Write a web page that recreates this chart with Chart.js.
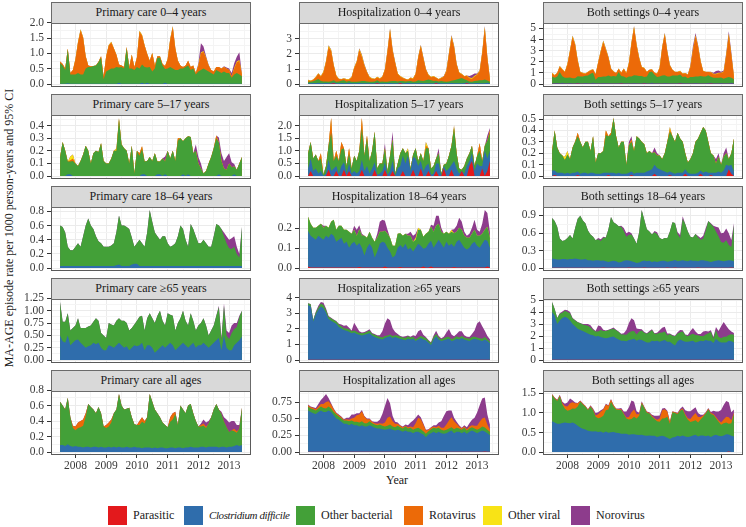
<!DOCTYPE html>
<html>
<head>
<meta charset="utf-8">
<script src="https://cdn.jsdelivr.net/npm/chart.js@4.4.1/dist/chart.umd.min.js"></script>
<style>
  body { margin: 0; width: 746px; height: 527px; background: #fff; position: relative; overflow: hidden;
         font-family: "Liberation Serif", "DejaVu Serif", serif; color: #1a1a1a; }
  .strip { position: absolute; box-sizing: border-box; background: #d9d9d9; border: 1px solid #6b6b6b;
           font-size: 12px; text-align: center; line-height: 19px; z-index: 2; }
  .wrap { position: absolute; z-index: 1; }
  .ytitle { position: absolute; left: 9px; top: 228px; transform: translate(-50%, -50%) rotate(-90deg);
            white-space: nowrap; font-size: 12px; }
  .xtitle { position: absolute; left: 397px; top: 480px; transform: translate(-50%, -50%); font-size: 12px; }
  .key { position: absolute; top: 506px; width: 19px; height: 19px; }
  .ktext { position: absolute; top: 508px; font-size: 12px; line-height: 15px; white-space: nowrap; }
</style>
</head>
<body>
<div class="ytitle">MA-AGE episode rate per 1000 person-years and 95% CI</div>
<div class="xtitle">Year</div>
<div id="legend"></div>
<script>
// monthly episodes, Jul 2007 .. Jun 2013 (one line = Jul..Jun)
const FIRST_YEAR = 2007, FIRST_MONTH = 7, N_MONTHS = 72;
const YEAR_TICKS = ['2008', '2009', '2010', '2011', '2012', '2013'];

// ---- Primary care 0-4 years
const PC04_TICKS = ['0.0', '0.5', '1.0', '1.5', '2.0'];
const PC04_B = [
  0.01,0.01,0.01,0.03,0.01,0.01,0.01,0.01,0.01,0.01,0.01,0.01,
  0.01,0.01,0.01,0.01,0.01,0.01,0.01,0.01,0.01,0.01,0.01,0.04,
  0.01,0.01,0.01,0.01,0.01,0.01,0.01,0.01,0.04,0.01,0.04,0.01,
  0.01,0.01,0.01,0.01,0.01,0.04,0.01,0.01,0.01,0.01,0.01,0.01,
  0.01,0.01,0.01,0.01,0.01,0.01,0.01,0.01,0.01,0.01,0.01,0.01,
  0.01,0.01,0.01,0.01,0.01,0.01,0.01,0.01,0.01,0.01,0.01,0.01];
const PC04_G = [
  0.68,0.60,0.45,1.10,0.30,0.30,0.30,0.35,0.30,0.30,0.50,0.55,
  0.55,0.58,0.60,0.70,0.85,0.15,0.40,0.45,0.50,0.50,0.55,0.50,
  0.55,0.50,1.15,0.50,0.50,0.45,0.55,0.50,0.60,0.55,0.50,0.55,
  0.40,0.50,0.85,0.85,0.60,0.45,0.50,0.55,0.50,0.45,0.45,0.50,
  0.50,0.55,0.60,0.45,0.50,0.30,0.40,0.45,0.50,0.45,0.40,0.35,
  0.30,0.45,0.40,0.35,0.40,0.35,0.35,0.20,0.30,0.35,0.30,0.25];
const PC04_O = [
  0.05,0.05,0.05,0.03,0.05,0.15,0.50,1.00,1.45,1.20,0.40,0.05,
  0.02,0,0,0.02,0.05,0.10,0.50,0.80,0.85,0.65,0.40,0.10,
  0.05,0.05,0.05,0.05,0.45,0.10,0.30,1.20,0.95,0.70,0.45,0.20,
  0.60,0.10,0.05,0.05,0.05,0.10,0.30,0.90,1.35,0.70,0.30,0.10,
  0.05,0.05,0.15,0.10,0.10,0.05,0.20,0.55,0.55,0.40,0.20,0.10,
  0.10,0.10,0.15,0.15,0.15,0.15,0.10,0.05,0.20,0.35,0.45,0.05];
const PC04_Y = [
  0,0,0,0,0,0,0.01,0.02,0.03,0.02,0,0,
  0,0,0,0,0,0,0.01,0.02,0.02,0.01,0,0,
  0,0,0,0,0.01,0,0.01,0.03,0.02,0.01,0,0,
  0.01,0,0,0,0,0,0.01,0.02,0.03,0.01,0,0,
  0,0,0,0,0,0,0.01,0.02,0.02,0.01,0,0,
  0,0,0,0,0,0,0,0,0.02,0.03,0.03,0];
const PC04_P = [
  0,0,0,0,0,0,0,0,0,0,0,0,
  0,0,0,0,0,0,0,0,0,0,0,0,
  0,0,0,0,0,0,0,0,0,0,0,0,
  0,0,0,0,0,0,0,0,0.01,0.01,0,0,
  0,0,0,0,0,0,0.05,0.30,0.15,0.05,0.02,0,
  0,0,0,0,0.02,0.03,0.05,0.10,0.15,0.15,0.25,0.02];

// ---- Hospitalization 0-4 years
const HOSP04_TICKS = ['0', '1', '2', '3'];
const HOSP04_R = [
  0.01,0.01,0.01,0.01,0.01,0.01,0.01,0.01,0.01,0.02,0.05,0.01,
  0.01,0.01,0.01,0.01,0.01,0.01,0.01,0.01,0.01,0.01,0.01,0.01,
  0.01,0.01,0.01,0.05,0.01,0.01,0.01,0.01,0.01,0.01,0.01,0.01,
  0.05,0.01,0.01,0.01,0.01,0.01,0.01,0.01,0.01,0.01,0.01,0.01,
  0.01,0.01,0.05,0.01,0.01,0.01,0.01,0.01,0.01,0.01,0.01,0.01,
  0.01,0.01,0.05,0.01,0.01,0.01,0.01,0.01,0.01,0.01,0.01,0.01];
const HOSP04_B = [
  0.05,0.05,0.06,0.05,0.08,0.05,0.05,0.06,0.05,0.05,0.05,0.05,
  0.05,0.06,0.05,0.05,0.08,0.05,0.05,0.05,0.06,0.05,0.05,0.05,
  0.05,0.05,0.05,0.06,0.05,0.05,0.05,0.05,0.06,0.05,0.05,0.05,
  0.06,0.05,0.05,0.08,0.05,0.05,0.05,0.05,0.06,0.05,0.05,0.05,
  0.05,0.05,0.05,0.06,0.05,0.05,0.05,0.05,0.06,0.05,0.05,0.05,
  0.05,0.06,0.05,0.05,0.05,0.05,0.06,0.05,0.05,0.05,0.08,0.05];
const HOSP04_G = [
  0.10,0.10,0.12,0.20,0.25,0.15,0.12,0.10,0.10,0.12,0.15,0.10,
  0.12,0.15,0.20,0.10,0.12,0.10,0.10,0.10,0.10,0.15,0.15,0.12,
  0.10,0.10,0.12,0.15,0.10,0.12,0.10,0.10,0.12,0.15,0.15,0.12,
  0.10,0.15,0.12,0.10,0.15,0.10,0.12,0.20,0.15,0.15,0.20,0.25,
  0.20,0.15,0.12,0.10,0.15,0.12,0.10,0.12,0.15,0.20,0.25,0.30,
  0.35,0.25,0.15,0.12,0.10,0.15,0.15,0.20,0.20,0.25,0.15,0.10];
const HOSP04_O = [
  0.10,0.05,0.10,0.20,0.35,0.30,0.60,1.30,2.30,2.00,1.00,0.40,
  0.15,0.10,0.10,0.15,0.10,0.30,0.90,1.30,2.10,1.60,1.00,0.60,
  0.30,0.20,0.15,0.20,0.20,0.30,0.80,2.00,3.40,2.00,1.20,0.50,
  0.30,0.20,0.15,0.10,0.20,0.20,0.50,1.50,2.30,1.50,0.70,0.30,
  0.20,0.30,0.20,0.15,0.20,0.30,0.70,1.80,2.90,2.20,1.00,0.40,
  0.25,0.20,0.30,0.20,0.20,0.30,0.40,0.60,1.80,3.40,1.50,0.20];
const HOSP04_Y = [
  0.02,0.02,0.02,0.03,0.03,0.03,0.05,0.06,0.10,0.08,0.04,0.02,
  0.02,0.02,0.02,0.02,0.02,0.03,0.05,0.06,0.08,0.10,0.05,0.03,
  0.02,0.02,0.02,0.02,0.02,0.03,0.04,0.06,0.08,0.06,0.04,0.02,
  0.02,0.02,0.02,0.02,0.02,0.02,0.03,0.05,0.06,0.05,0.03,0.02,
  0.02,0.02,0.02,0.02,0.02,0.03,0.04,0.06,0.08,0.06,0.03,0.02,
  0.02,0.02,0.02,0.05,0.05,0.05,0.03,0.04,0.06,0.10,0.05,0.02];
const HOSP04_P = [
  0,0,0,0,0,0,0,0,0.02,0.02,0,0,
  0,0,0,0,0,0,0,0.02,0.03,0.05,0.05,0.02,
  0,0,0,0,0,0,0,0.02,0.03,0.05,0.03,0,
  0,0,0,0,0,0,0,0.02,0.03,0.05,0.02,0,
  0,0,0,0,0,0.02,0.03,0.04,0.05,0.05,0.02,0,
  0,0,0,0.10,0.20,0.15,0.05,0.02,0.03,0.05,0.03,0];

// ---- Both settings 0-4 years
const BOTH04_TICKS = ['0', '1', '2', '3', '4', '5'];
const BOTH04_R = [
  0.02,0.02,0.02,0.02,0.02,0.02,0.02,0.02,0.02,0.02,0.05,0.02,
  0.02,0.02,0.02,0.02,0.02,0.02,0.02,0.02,0.02,0.02,0.02,0.02,
  0.02,0.02,0.02,0.05,0.02,0.02,0.02,0.02,0.02,0.02,0.02,0.02,
  0.06,0.02,0.02,0.02,0.02,0.02,0.02,0.02,0.02,0.02,0.02,0.02,
  0.02,0.02,0.05,0.02,0.02,0.02,0.02,0.02,0.02,0.02,0.02,0.02,
  0.02,0.02,0.05,0.02,0.02,0.02,0.02,0.02,0.02,0.02,0.02,0.02];
const BOTH04_B = [
  0.06,0.06,0.07,0.06,0.09,0.06,0.06,0.07,0.06,0.06,0.06,0.06,
  0.06,0.07,0.06,0.06,0.09,0.06,0.06,0.06,0.07,0.06,0.06,0.06,
  0.06,0.06,0.06,0.07,0.06,0.06,0.06,0.06,0.07,0.06,0.06,0.06,
  0.07,0.06,0.06,0.09,0.06,0.06,0.06,0.06,0.07,0.06,0.06,0.06,
  0.06,0.06,0.06,0.07,0.06,0.06,0.06,0.06,0.07,0.06,0.06,0.06,
  0.06,0.07,0.06,0.06,0.06,0.06,0.07,0.06,0.06,0.06,0.09,0.06];
const BOTH04_G = [
  0.60,0.50,0.60,1.00,0.60,0.50,0.50,0.50,0.45,0.45,0.60,0.60,
  0.60,0.65,0.70,0.85,0.90,0.30,0.55,0.55,0.60,0.60,0.70,0.60,
  0.65,0.60,1.00,0.60,0.60,0.50,0.60,0.60,0.70,0.70,0.65,0.65,
  0.50,0.60,1.00,1.00,0.75,0.55,0.60,0.70,0.70,0.60,0.60,0.70,
  0.70,0.70,0.75,0.55,0.60,0.45,0.55,0.55,0.60,0.60,0.65,0.60,
  0.60,0.70,0.55,0.50,0.50,0.50,0.50,0.40,0.50,0.55,0.45,0.35];
const BOTH04_O = [
  0.30,0.20,0.30,0.50,0.60,0.50,1.20,2.40,3.70,3.00,1.40,0.40,
  0.30,0.20,0.30,0.30,0.30,0.50,1.30,2.30,3.10,2.40,1.60,0.70,
  0.40,0.30,0.30,0.30,0.70,0.40,1.20,3.00,4.30,2.70,1.60,0.80,
  0.80,0.40,0.20,0.20,0.20,0.30,0.80,2.50,3.70,2.20,1.00,0.50,
  0.30,0.30,0.30,0.30,0.30,0.30,0.90,2.40,3.60,2.70,1.30,0.50,
  0.40,0.30,0.40,0.30,0.30,0.40,0.40,0.60,2.00,3.80,2.00,0.30];
const BOTH04_Y = [
  0.03,0.03,0.03,0.04,0.04,0.04,0.06,0.08,0.12,0.10,0.05,0.03,
  0.03,0.02,0.02,0.03,0.03,0.03,0.06,0.08,0.10,0.10,0.05,0.03,
  0.02,0.02,0.02,0.03,0.03,0.03,0.05,0.09,0.10,0.08,0.05,0.03,
  0.03,0.02,0.02,0.02,0.02,0.02,0.04,0.07,0.09,0.06,0.04,0.02,
  0.02,0.02,0.03,0.02,0.02,0.03,0.05,0.08,0.10,0.07,0.04,0.02,
  0.02,0.02,0.03,0.05,0.05,0.05,0.03,0.05,0.08,0.12,0.06,0.02];
const BOTH04_P = [
  0,0,0,0,0,0,0,0,0.02,0.02,0,0,
  0,0,0,0,0,0,0,0.02,0.03,0.05,0.05,0.02,
  0,0,0,0,0,0,0,0.02,0.04,0.05,0.03,0,
  0,0,0,0,0,0,0,0.02,0.03,0.05,0.02,0,
  0,0,0,0,0,0.02,0.08,0.30,0.20,0.08,0.02,0,
  0,0,0.02,0.10,0.25,0.20,0.10,0.10,0.15,0.20,0.25,0.02];

// ---- Primary care 5-17 years
const PC517_TICKS = ['0.0', '0.1', '0.2', '0.3', '0.4'];
const PC517_B = [
  0,0,0,0.015,0.015,0,0,0,0,0,0,0,
  0,0,0,0,0,0,0,0,0,0,0,0,
  0,0,0,0,0,0,0,0,0.015,0.015,0,0,
  0,0,0.015,0.015,0,0.015,0,0,0,0,0,0,
  0.015,0,0.015,0,0,0,0,0,0,0,0,0,
  0,0,0.015,0,0,0,0,0,0.015,0,0,0];
const PC517_G = [
  0.15,0.27,0.20,0.10,0.10,0.12,0.10,0.08,0.12,0.17,0.24,0.20,
  0.10,0.18,0.20,0.19,0.26,0.12,0.10,0.10,0.14,0.20,0.20,0.45,
  0.25,0.22,0.20,0.10,0.24,0.02,0.20,0.16,0.20,0.10,0.12,0.15,
  0.12,0.18,0.10,0.10,0.14,0.10,0.20,0.14,0.20,0.12,0.28,0.30,
  0.26,0.30,0.30,0.31,0.18,0.20,0.10,0.06,0.02,0.04,0.10,0.15,
  0.22,0.30,0.25,0.12,0.06,0.05,0.10,0.07,0.06,0.05,0.10,0.15];
const PC517_O = [
  0,0,0,0,0.01,0.02,0,0,0,0,0,0,
  0,0,0,0,0,0,0,0,0,0,0,0,
  0,0,0,0,0,0,0,0.02,0.02,0,0,0,
  0,0,0,0,0,0,0,0,0,0,0.02,0,
  0,0,0,0,0,0,0,0,0,0,0,0,
  0,0.02,0,0,0,0,0,0,0,0,0,0];
const PC517_Y = [
  0,0,0,0,0.03,0.03,0,0,0,0,0,0,
  0,0,0,0,0,0,0,0,0,0,0.02,0.01,
  0,0,0,0,0,0,0,0,0,0,0,0,
  0,0,0,0,0,0,0,0,0,0,0,0,
  0,0,0,0,0,0,0,0,0,0,0,0,
  0,0,0,0,0,0,0,0,0,0,0,0];
const PC517_P = [
  0,0,0,0,0,0,0,0,0,0,0,0,
  0,0,0,0,0,0,0,0,0,0,0,0,
  0,0,0,0,0,0,0,0,0,0,0,0,
  0,0,0,0,0,0.04,0,0,0,0,0,0,
  0,0,0,0,0,0.05,0.05,0.04,0,0,0,0,
  0,0,0.04,0.06,0.06,0.10,0.08,0.04,0.02,0,0,0];

// ---- Hospitalization 5-17 years
const HOSP517_TICKS = ['0.0', '0.5', '1.0', '1.5', '2.0'];
const HOSP517_R = [
  0,0.20,0,0,0,0,0,0,0.25,0,0,0.20,
  0,0,0.25,0,0.20,0,0,0,0,0.25,0,0,
  0,0,0.25,0,0,0,0.25,0,0,0.20,0,0,
  0,0.20,0,0,0,0.25,0,0,0.30,0,0,0.20,
  0,0,0.20,0,0,0.30,0,0,0.25,0,0,0,
  0.20,0,0,0.40,0.60,0,0,0,0.30,0,0.20,0.60];
const HOSP517_B = [
  0.30,0.50,0.20,0.30,0.10,0.20,0,0.10,0.40,0.20,0.30,0.20,
  0.10,0.40,0.30,0.10,0.30,0.10,0.20,0.10,0.20,0.40,0.20,0.40,
  0.10,0.30,0.30,0.05,0.10,0.20,0.30,0.05,0.20,0.40,0,0.30,
  0.40,0.60,0.50,0.80,0.20,0.50,0.70,0.40,0.30,0.20,0.40,0.30,
  0.05,0.10,0.30,0.50,0,0.10,0.20,0.30,0.20,0.60,0.30,0.10,
  0,0.10,0.40,0.20,0.30,0.20,0.50,0.40,0.10,1.00,0.50,0.40];
const HOSP517_G = [
  0.60,0.65,0.50,0.55,0.50,0.50,0.05,0.30,0.55,1.50,0.30,0.40,
  0.50,0.65,0.55,0.30,0.40,0.20,0.60,0.50,0.80,1.25,0.60,1.10,
  0.50,0.70,1.20,0.25,0.40,0.30,0.55,0.15,0.60,0.85,0.10,0.20,
  0.50,0.30,0.40,0.20,0.10,0.10,0.40,0.20,0.30,0.40,0.70,0.60,
  0.25,0.30,0.20,0.40,0.10,0.05,0.30,0.50,0.75,1.30,0.60,0.20,
  0.05,0.30,0.30,0.30,0.30,0.20,0.30,0.60,0.20,0.20,0.70,0.70];
const HOSP517_O = [
  0,0,0,0,0,0.20,0,0,0,0.60,0,0.20,
  0,0.30,0,0,0.20,0,0,0,0,0.40,0,0.10,
  0,0,0,0,0,0,0,0,0,0,0,0,
  0,0,0,0,0,0,0,0,0,0,0.10,0,
  0,0,0,0,0,0,0,0,0,0,0,0,
  0,0,0,0,0,0,0,0.30,0,0,0,0.10];
const HOSP517_Y = [
  0,0,0,0,0,0,0,0,0,0,0,0,
  0,0,0,0,0,0,0,0,0,0,0,0,
  0,0,0,0,0,0,0,0,0,0,0,0,
  0,0,0,0.10,0,0,0,0,0,0,0.15,0,
  0,0,0,0,0,0,0,0,0,0.10,0,0,
  0,0,0,0,0,0,0,0,0,0,0,0];
const HOSP517_P = [
  0,0,0,0,0,0,0,0,0,0,0,0,
  0,0,0,0,0,0,0,0,0,0,0,0,
  0,0,0,0,0,0,0.20,0,0,0.30,0,0,
  0,0,0,0,0,0,0,0,0,0,0,0,
  0,0,0,0.20,0,0,0,0,0,0,0,0,
  0,0,0,0,0,0,0,0,0,0,0.20,0.10];

// ---- Both settings 5-17 years
const BOTH517_TICKS = ['0.0', '0.1', '0.2', '0.3', '0.4', '0.5'];
const BOTH517_R = [
  0,0.01,0,0,0,0,0,0,0,0,0.01,0,
  0,0,0,0,0,0,0,0,0,0,0.01,0,
  0,0,0,0,0,0,0,0.01,0,0,0,0,
  0,0,0,0,0.02,0,0,0,0,0,0.01,0,
  0,0,0,0,0.02,0,0,0,0,0,0.02,0,
  0,0,0.01,0,0,0,0,0,0,0.06,0.02,0];
const BOTH517_B = [
  0.05,0.04,0.03,0.03,0.03,0.02,0.03,0.02,0.03,0.03,0.03,0.02,
  0.03,0.03,0.02,0.03,0.03,0.02,0.02,0.02,0.03,0.03,0.02,0.03,
  0.03,0.02,0.03,0.02,0.02,0.02,0.03,0.03,0.02,0.03,0.03,0.03,
  0.03,0.04,0.05,0.06,0.08,0.07,0.06,0.05,0.04,0.03,0.03,0.03,
  0.02,0.03,0.03,0.03,0.04,0.03,0.02,0.02,0.02,0.03,0.03,0.03,
  0.04,0.03,0.02,0.03,0.03,0.04,0.03,0.05,0.10,0.03,0.08,0.04];
const BOTH517_G = [
  0.17,0.35,0.22,0.17,0.15,0.12,0.16,0.13,0.22,0.27,0.31,0.28,
  0.22,0.27,0.28,0.19,0.32,0.10,0.18,0.18,0.19,0.33,0.32,0.33,
  0.48,0.33,0.22,0.28,0.28,0.08,0.24,0.26,0.20,0.32,0.30,0.27,
  0.25,0.16,0.17,0.14,0.11,0.11,0.12,0.10,0.16,0.27,0.35,0.32,
  0.28,0.35,0.30,0.27,0.14,0.09,0.13,0.18,0.28,0.30,0.33,0.40,
  0.36,0.27,0.17,0.15,0.08,0.13,0.07,0.12,0.10,0.06,0.10,0.29];
const BOTH517_O = [
  0,0,0,0,0,0,0,0,0,0,0.03,0,
  0,0,0,0,0,0,0,0,0,0.04,0,0.02,
  0,0,0,0,0,0,0,0.02,0,0,0,0,
  0,0,0,0,0,0,0,0,0,0,0.02,0,
  0,0,0,0,0,0,0,0,0,0,0,0,
  0,0,0,0,0,0,0,0,0,0,0,0];
const BOTH517_Y = [
  0,0,0,0,0,0.03,0.03,0,0,0,0,0,
  0,0,0,0,0,0,0,0,0,0,0,0,
  0,0,0,0,0,0,0,0,0,0,0,0,
  0,0,0,0,0,0,0,0,0,0,0.02,0,
  0,0,0,0,0,0,0,0,0,0,0,0,
  0,0,0,0,0,0,0,0,0,0,0,0];
const BOTH517_P = [
  0,0,0,0,0,0,0,0,0,0,0,0,
  0,0,0,0,0,0,0,0,0,0,0,0,
  0,0,0,0,0,0,0.03,0.03,0,0,0,0,
  0,0,0,0,0.04,0.02,0,0,0,0,0,0,
  0,0,0,0,0,0,0,0,0,0,0,0,
  0,0,0,0,0.04,0.03,0,0.03,0.05,0,0,0];

// ---- Primary care 18-64 years
const PC1864_TICKS = ['0.0', '0.2', '0.4', '0.6', '0.8'];
const PC1864_B = [
  0.03,0.03,0.03,0.03,0.03,0.03,0.03,0.03,0.03,0.03,0.03,0.03,
  0.03,0.03,0.03,0.03,0.03,0.03,0.03,0.03,0.03,0.03,0.04,0.05,
  0.03,0.03,0.03,0.03,0.05,0.06,0.06,0.03,0.03,0.03,0.03,0.03,
  0.03,0.03,0.03,0.03,0.03,0.03,0.03,0.03,0.03,0.03,0.03,0.03,
  0.03,0.03,0.03,0.03,0.03,0.03,0.03,0.03,0.03,0.03,0.03,0.03,
  0.03,0.03,0.03,0.03,0.03,0.03,0.03,0.03,0.03,0.03,0.03,0.03];
const PC1864_G = [
  0.57,0.55,0.47,0.27,0.22,0.22,0.27,0.32,0.27,0.42,0.57,0.67,
  0.57,0.52,0.42,0.35,0.32,0.27,0.27,0.27,0.29,0.32,0.47,0.69,
  0.57,0.57,0.55,0.52,0.38,0.24,0.29,0.37,0.32,0.27,0.47,0.79,
  0.62,0.47,0.42,0.37,0.42,0.42,0.32,0.27,0.29,0.32,0.42,0.57,
  0.52,0.37,0.27,0.59,0.52,0.42,0.32,0.32,0.37,0.32,0.27,0.27,
  0.42,0.59,0.57,0.52,0.42,0.32,0.25,0.24,0.27,0.17,0.12,0.55];
const PC1864_P = [
  0,0,0,0,0,0,0,0,0,0,0,0,
  0,0,0,0,0,0,0,0,0,0,0,0,
  0,0,0,0,0,0,0,0,0,0,0,0,
  0,0,0,0,0,0,0,0,0,0,0,0,
  0,0,0,0,0,0,0,0,0,0,0,0,
  0,0,0,0,0.05,0.10,0.12,0.15,0.15,0.10,0.05,0];

// ---- Hospitalization 18-64 years
const HOSP1864_TICKS = ['0.0', '0.1', '0.2'];
const HOSP1864_R = [
  0.008,0.003,0.003,0.003,0.003,0.003,0.003,0.003,0.003,0.003,0.003,0.003,
  0.003,0.003,0.003,0.003,0.003,0.003,0.003,0.003,0.006,0.003,0.003,0.003,
  0.003,0.003,0.003,0.003,0.003,0.003,0.008,0.003,0.003,0.003,0.003,0.003,
  0.006,0.003,0.003,0.003,0.003,0.003,0.003,0.003,0.003,0.008,0.003,0.003,
  0.008,0.003,0.003,0.003,0.003,0.003,0.003,0.003,0.003,0.006,0.003,0.003,
  0.003,0.003,0.003,0.003,0.003,0.003,0.003,0.003,0.003,0.003,0.008,0.003];
const HOSP1864_B = [
  0.18,0.16,0.15,0.14,0.16,0.15,0.14,0.16,0.15,0.17,0.16,0.13,
  0.14,0.15,0.12,0.13,0.10,0.12,0.13,0.11,0.12,0.10,0.06,0.10,
  0.12,0.10,0.05,0.08,0.12,0.13,0.12,0.10,0.08,0.05,0.06,0.10,
  0.11,0.10,0.12,0.09,0.10,0.08,0.10,0.12,0.11,0.09,0.10,0.12,
  0.13,0.10,0.12,0.14,0.12,0.10,0.13,0.11,0.12,0.10,0.13,0.14,
  0.12,0.10,0.09,0.10,0.12,0.13,0.11,0.10,0.12,0.14,0.13,0.10];
const HOSP1864_G = [
  0.07,0.06,0.05,0.06,0.05,0.07,0.06,0.05,0.05,0.06,0.08,0.06,
  0.07,0.06,0.07,0.06,0.08,0.05,0.06,0.05,0.07,0.06,0.10,0.05,
  0.06,0.05,0.08,0.07,0.06,0.05,0.06,0.07,0.07,0.06,0.05,0.07,
  0.06,0.06,0.05,0.07,0.06,0.05,0.04,0.07,0.08,0.06,0.07,0.06,
  0.07,0.08,0.09,0.08,0.06,0.07,0.05,0.06,0.06,0.07,0.05,0.06,
  0.07,0.06,0.06,0.05,0.05,0.06,0.05,0.06,0.05,0.05,0.07,0.05];
const HOSP1864_Y = [
  0,0,0,0,0,0,0,0,0,0,0,0,
  0,0,0,0,0,0,0,0,0,0,0,0,
  0,0,0,0,0,0,0,0,0,0,0,0,
  0,0,0,0,0,0,0.01,0.01,0,0,0,0,
  0,0,0,0,0,0,0,0,0.01,0,0,0,
  0,0,0,0,0,0,0,0,0,0,0,0];
const HOSP1864_P = [
  0,0,0,0,0,0,0.01,0,0,0,0,0,
  0,0,0,0,0,0,0.02,0.03,0.02,0.01,0,0,
  0,0,0,0.02,0.05,0.06,0.05,0.02,0,0,0,0,
  0,0,0,0.01,0.02,0.03,0.02,0,0,0,0,0,
  0.01,0.03,0.05,0.04,0.02,0,0,0,0,0.02,0.03,0.05,
  0.04,0.02,0.01,0.02,0.03,0.05,0.03,0.02,0.05,0.10,0.07,0.03];

// ---- Both settings 18-64 years
const BOTH1864_TICKS = ['0.0', '0.3', '0.6', '0.9'];
const BOTH1864_R = [
  0.005,0.005,0.005,0.005,0.005,0.005,0.005,0.005,0.005,0.005,0.005,0.005,
  0.005,0.005,0.005,0.005,0.005,0.005,0.005,0.005,0.008,0.005,0.005,0.005,
  0.005,0.005,0.005,0.005,0.005,0.005,0.01,0.005,0.005,0.005,0.005,0.005,
  0.008,0.005,0.005,0.005,0.005,0.005,0.005,0.005,0.005,0.01,0.005,0.005,
  0.01,0.005,0.005,0.005,0.005,0.005,0.005,0.005,0.005,0.008,0.005,0.005,
  0.005,0.005,0.005,0.005,0.005,0.005,0.005,0.005,0.005,0.005,0.01,0.005];
const BOTH1864_B = [
  0.16,0.15,0.14,0.14,0.15,0.15,0.14,0.15,0.15,0.16,0.15,0.14,
  0.14,0.15,0.13,0.13,0.12,0.13,0.13,0.12,0.12,0.11,0.10,0.11,
  0.12,0.11,0.09,0.10,0.12,0.13,0.12,0.11,0.10,0.08,0.09,0.11,
  0.12,0.11,0.12,0.10,0.11,0.10,0.11,0.12,0.12,0.10,0.11,0.12,
  0.13,0.11,0.12,0.13,0.12,0.11,0.13,0.12,0.12,0.11,0.13,0.13,
  0.12,0.11,0.10,0.11,0.12,0.13,0.12,0.11,0.12,0.13,0.12,0.11];
const BOTH1864_G = [
  0.69,0.65,0.56,0.36,0.31,0.32,0.37,0.41,0.35,0.52,0.69,0.75,
  0.67,0.61,0.51,0.44,0.41,0.34,0.36,0.34,0.39,0.41,0.56,0.76,
  0.66,0.64,0.62,0.60,0.51,0.40,0.44,0.46,0.40,0.33,0.52,0.88,
  0.70,0.55,0.50,0.47,0.50,0.48,0.40,0.37,0.39,0.40,0.51,0.66,
  0.63,0.47,0.39,0.71,0.63,0.51,0.40,0.40,0.46,0.41,0.35,0.37,
  0.52,0.69,0.65,0.59,0.50,0.41,0.32,0.32,0.35,0.26,0.23,0.62];
const BOTH1864_P = [
  0,0,0,0,0,0,0,0,0,0,0,0,
  0,0,0,0,0,0,0.02,0.03,0.02,0,0,0,
  0,0,0,0.02,0.05,0.06,0.05,0.02,0,0,0,0,
  0,0,0,0,0.02,0.03,0,0,0,0,0,0,
  0,0.03,0.05,0.04,0,0,0,0,0,0.02,0.03,0.05,
  0.04,0,0.01,0.02,0.08,0.15,0.15,0.17,0.20,0.20,0.12,0.03];

// ---- Primary care >=65 years
const PC65_TICKS = ['0.00', '0.25', '0.50', '0.75', '1.00', '1.25'];
const PC65_B = [
  0.50,0.38,0.35,0.50,0.30,0.35,0.40,0.42,0.35,0.30,0.25,0.28,
  0.30,0.35,0.32,0.35,0.25,0.20,0.20,0.30,0.28,0.25,0.30,0.35,
  0.30,0.25,0.28,0.20,0.25,0.30,0.28,0.30,0.35,0.20,0.30,0.30,
  0.25,0.15,0.20,0.25,0.30,0.25,0.30,0.35,0.30,0.20,0.25,0.30,
  0.35,0.30,0.25,0.30,0.35,0.25,0.30,0.30,0.35,0.30,0.25,0.30,
  0.35,0.40,0.45,0.20,0.50,0.25,0.20,0.20,0.30,0.35,0.40,0.48];
const PC65_G = [
  0.68,0.40,0.43,0.45,0.30,0.30,0.30,0.43,0.30,0.35,0.40,0.40,
  0.40,0.43,0.53,0.45,0.30,0.30,0.25,0.45,0.44,0.45,0.50,0.50,
  0.50,0.55,0.47,0.40,0.40,0.42,0.52,0.58,0.55,0.40,0.55,0.65,
  0.60,0.60,0.70,0.75,0.50,0.45,0.65,0.57,0.60,0.40,0.50,0.55,
  0.65,0.50,0.45,0.65,0.45,0.35,0.40,0.45,0.50,0.40,0.25,0.30,
  0.35,0.50,0.62,0.20,0.60,0.25,0.23,0.35,0.33,0.32,0.47,0.52];
const PC65_P = [
  0,0,0,0,0,0,0,0,0,0,0,0,
  0,0,0,0,0,0,0,0,0,0,0,0,
  0,0,0,0,0,0,0,0,0,0,0,0,
  0,0,0,0,0,0,0,0,0,0,0,0,
  0,0,0,0,0,0,0,0,0,0,0,0,
  0,0,0.03,0.05,0.05,0.10,0.12,0.15,0.12,0.08,0.03,0];

// ---- Hospitalization >=65 years
const HOSP65_TICKS = ['0', '1', '2', '3', '4'];
const HOSP65_R = [
  0.02,0.02,0.02,0.02,0.02,0.02,0.02,0.02,0.02,0.02,0.02,0.02,
  0.02,0.02,0.02,0.02,0.02,0.02,0.02,0.02,0.02,0.02,0.02,0.02,
  0.02,0.02,0.02,0.02,0.02,0.02,0.02,0.02,0.02,0.02,0.02,0.02,
  0.02,0.02,0.02,0.02,0.02,0.02,0.02,0.02,0.02,0.02,0.02,0.02,
  0.02,0.02,0.02,0.02,0.02,0.02,0.02,0.02,0.02,0.02,0.02,0.02,
  0.02,0.02,0.02,0.02,0.02,0.02,0.02,0.02,0.02,0.02,0.02,0.02];
const HOSP65_B = [
  3.50,3.40,2.45,2.90,3.20,3.40,3.30,3.00,2.60,2.50,2.40,2.30,
  2.10,2.00,1.90,1.85,1.80,1.70,1.75,1.65,1.60,1.55,1.60,1.65,
  1.70,1.55,1.45,1.40,1.35,1.30,1.40,1.45,1.50,1.40,1.45,1.40,
  1.35,1.30,1.25,1.35,1.30,1.35,1.20,1.30,1.40,1.30,1.25,1.10,
  0.95,1.30,1.50,1.30,1.20,1.25,1.30,1.35,1.20,1.25,1.35,1.30,
  1.40,1.30,1.25,1.20,1.30,1.35,1.30,1.25,1.20,1.30,1.20,1.05];
const HOSP65_G = [
  0.12,0.15,0.10,0.12,0.15,0.20,0.20,0.18,0.15,0.15,0.15,0.15,
  0.15,0.15,0.12,0.15,0.15,0.12,0.12,0.15,0.12,0.15,0.12,0.15,
  0.15,0.12,0.15,0.12,0.12,0.12,0.12,0.10,0.12,0.12,0.12,0.15,
  0.12,0.12,0.15,0.15,0.12,0.12,0.12,0.12,0.12,0.15,0.15,0.12,
  0.12,0.15,0.15,0.12,0.12,0.12,0.15,0.12,0.12,0.15,0.15,0.12,
  0.12,0.12,0.12,0.15,0.15,0.12,0.12,0.12,0.15,0.15,0.12,0.12];
const HOSP65_P = [
  0,0.02,0,0.05,0.10,0.10,0.15,0.10,0.05,0.03,0.02,0.03,
  0.05,0.10,0.15,0.20,0.10,0.05,0.50,0.30,0.10,0.05,0.05,0.05,
  0.10,0.05,0.05,0.05,0.10,0.40,0.80,1.10,0.90,0.50,0.20,0.10,
  0.05,0.05,0.10,0.05,0.05,0.10,0.20,0.40,0.40,0.15,0.05,0.05,
  0.05,0.10,0.20,0.10,0.05,0.10,0.30,0.50,0.30,0.10,0.15,0.40,
  0.30,0.15,0.10,0.10,0.20,0.40,0.90,1.10,0.80,0.40,0.20,0.15];

// ---- Both settings >=65 years
const BOTH65_TICKS = ['0', '1', '2', '3', '4', '5'];
const BOTH65_R = [
  0.03,0.03,0.03,0.03,0.03,0.03,0.03,0.03,0.03,0.03,0.03,0.03,
  0.03,0.03,0.03,0.03,0.03,0.03,0.03,0.03,0.03,0.03,0.03,0.03,
  0.03,0.03,0.03,0.03,0.03,0.03,0.03,0.03,0.03,0.03,0.03,0.03,
  0.03,0.03,0.03,0.03,0.03,0.03,0.03,0.03,0.03,0.03,0.03,0.03,
  0.03,0.03,0.03,0.03,0.03,0.03,0.03,0.03,0.03,0.03,0.03,0.03,
  0.03,0.03,0.03,0.03,0.03,0.03,0.03,0.03,0.03,0.03,0.03,0.03];
const BOTH65_B = [
  4.00,3.70,3.00,3.30,3.50,3.60,3.50,3.30,3.00,2.80,2.60,2.50,
  2.40,2.30,2.20,2.10,2.05,1.95,2.00,1.90,1.85,1.80,1.85,1.90,
  1.95,1.80,1.70,1.60,1.60,1.55,1.65,1.70,1.75,1.60,1.70,1.65,
  1.55,1.45,1.45,1.60,1.55,1.60,1.50,1.60,1.65,1.50,1.50,1.35,
  1.20,1.55,1.70,1.60,1.50,1.50,1.55,1.60,1.45,1.50,1.60,1.55,
  1.65,1.60,1.60,1.40,1.75,1.55,1.45,1.45,1.45,1.60,1.55,1.45];
const BOTH65_G = [
  0.85,0.55,0.50,0.55,0.45,0.50,0.50,0.60,0.45,0.50,0.55,0.55,
  0.55,0.60,0.65,0.60,0.45,0.42,0.37,0.60,0.56,0.60,0.62,0.65,
  0.65,0.67,0.62,0.52,0.52,0.54,0.64,0.68,0.67,0.52,0.67,0.80,
  0.72,0.72,0.85,0.90,0.62,0.57,0.77,0.69,0.72,0.55,0.65,0.67,
  0.77,0.65,0.60,0.77,0.57,0.47,0.55,0.57,0.62,0.55,0.40,0.42,
  0.47,0.62,0.74,0.35,0.75,0.37,0.35,0.47,0.48,0.47,0.59,0.64];
const BOTH65_P = [
  0,0.02,0,0.05,0.10,0.10,0.15,0.10,0.05,0.03,0.02,0.03,
  0.05,0.10,0.15,0.20,0.10,0.05,0.50,0.30,0.10,0.05,0.05,0.05,
  0.10,0.05,0.05,0.05,0.10,0.40,0.80,1.10,0.90,0.50,0.20,0.10,
  0.05,0.05,0.10,0.05,0.05,0.10,0.20,0.40,0.40,0.15,0.05,0.05,
  0.05,0.10,0.20,0.10,0.05,0.10,0.30,0.50,0.30,0.10,0.15,0.40,
  0.30,0.15,0.13,0.15,0.25,0.50,1.00,1.25,0.92,0.48,0.23,0.15];

// ---- Primary care all ages
const PCALL_TICKS = ['0.0', '0.2', '0.4', '0.6', '0.8'];
const PCALL_B = [
  0.09,0.09,0.08,0.10,0.08,0.07,0.08,0.07,0.07,0.06,0.07,0.07,
  0.06,0.07,0.07,0.06,0.07,0.06,0.06,0.07,0.06,0.07,0.06,0.07,
  0.06,0.06,0.07,0.06,0.06,0.07,0.06,0.06,0.05,0.06,0.06,0.06,
  0.05,0.06,0.05,0.06,0.06,0.05,0.05,0.06,0.06,0.05,0.06,0.06,
  0.05,0.06,0.06,0.07,0.06,0.06,0.06,0.07,0.07,0.06,0.07,0.07,
  0.07,0.07,0.06,0.07,0.07,0.06,0.07,0.07,0.08,0.09,0.08,0.09];
const PCALL_G = [
  0.56,0.51,0.47,0.60,0.37,0.24,0.20,0.24,0.25,0.28,0.39,0.55,
  0.52,0.48,0.43,0.52,0.43,0.27,0.25,0.26,0.32,0.43,0.49,0.68,
  0.54,0.49,0.49,0.51,0.39,0.29,0.29,0.29,0.34,0.31,0.39,0.69,
  0.60,0.49,0.45,0.39,0.32,0.30,0.27,0.33,0.36,0.44,0.29,0.54,
  0.50,0.44,0.54,0.55,0.44,0.34,0.27,0.26,0.27,0.25,0.30,0.38,
  0.48,0.55,0.49,0.42,0.32,0.26,0.19,0.21,0.19,0.16,0.22,0.48];
const PCALL_O = [
  0,0,0,0,0,0.03,0.05,0.07,0.08,0.08,0.04,0,
  0,0,0,0,0,0,0.04,0.05,0.04,0,0,0,
  0,0,0,0,0,0,0,0.05,0.06,0.03,0,0,
  0,0,0,0,0,0,0,0.06,0.08,0.03,0,0,
  0,0,0,0,0,0,0,0.02,0.03,0.02,0,0,
  0,0,0,0,0,0,0,0,0.03,0.02,0,0];
const PCALL_P = [
  0,0,0,0,0,0,0,0,0,0,0,0,
  0,0,0,0,0,0,0,0,0,0,0,0,
  0,0,0,0,0,0,0,0,0,0,0,0,
  0,0,0,0,0,0,0,0,0,0,0,0,
  0,0,0,0,0,0,0,0.02,0.05,0.05,0.03,0,
  0,0,0,0.03,0.06,0.10,0.12,0.12,0.10,0.08,0.05,0];

// ---- Hospitalization all ages
const HOSPALL_TICKS = ['0.00', '0.25', '0.50', '0.75'];
const HOSPALL_R = [
  0.004,0.004,0.004,0.004,0.004,0.004,0.004,0.004,0.004,0.004,0.004,0.004,
  0.004,0.004,0.004,0.004,0.004,0.004,0.004,0.004,0.004,0.004,0.004,0.004,
  0.004,0.004,0.004,0.004,0.004,0.004,0.004,0.004,0.004,0.004,0.004,0.004,
  0.004,0.004,0.004,0.004,0.004,0.004,0.004,0.004,0.004,0.004,0.004,0.004,
  0.004,0.004,0.004,0.004,0.004,0.004,0.004,0.004,0.004,0.004,0.004,0.004,
  0.004,0.004,0.004,0.004,0.004,0.004,0.004,0.004,0.004,0.010,0.004,0.004];
const HOSPALL_B = [
  0.62,0.60,0.58,0.57,0.60,0.62,0.60,0.60,0.62,0.60,0.55,0.50,
  0.48,0.45,0.42,0.42,0.40,0.42,0.40,0.40,0.38,0.40,0.38,0.38,
  0.40,0.38,0.36,0.35,0.35,0.34,0.33,0.34,0.35,0.33,0.32,0.33,
  0.32,0.30,0.32,0.30,0.30,0.28,0.30,0.30,0.28,0.26,0.22,0.26,
  0.28,0.30,0.28,0.30,0.28,0.27,0.28,0.30,0.32,0.28,0.30,0.30,
  0.28,0.30,0.27,0.30,0.32,0.30,0.28,0.30,0.32,0.30,0.28,0.25];
const HOSPALL_G = [
  0.06,0.05,0.06,0.05,0.05,0.06,0.06,0.05,0.06,0.05,0.05,0.06,
  0.05,0.05,0.05,0.05,0.06,0.05,0.05,0.05,0.06,0.06,0.05,0.05,
  0.06,0.05,0.05,0.05,0.06,0.05,0.05,0.05,0.06,0.05,0.05,0.06,
  0.05,0.05,0.06,0.05,0.06,0.05,0.05,0.06,0.06,0.05,0.05,0.05,
  0.06,0.06,0.07,0.06,0.05,0.05,0.05,0.05,0.05,0.06,0.06,0.05,
  0.05,0.06,0.05,0.05,0.05,0.05,0.05,0.05,0.06,0.06,0.05,0.05];
const HOSPALL_O = [
  0.02,0.02,0.02,0.02,0.03,0.04,0.06,0.10,0.08,0.06,0.04,0.02,
  0.02,0.02,0.01,0.02,0.02,0.03,0.06,0.10,0.12,0.15,0.10,0.06,
  0.03,0.02,0.02,0.02,0.02,0.03,0.06,0.12,0.12,0.08,0.05,0.03,
  0.02,0.02,0.01,0.02,0.02,0.04,0.08,0.15,0.15,0.10,0.05,0.02,
  0.02,0.02,0.02,0.03,0.03,0.04,0.08,0.12,0.15,0.12,0.06,0.03,
  0.02,0.02,0.02,0.03,0.03,0.04,0.06,0.10,0.12,0.15,0.08,0.03];
const HOSPALL_P = [
  0.01,0.01,0.01,0.02,0.04,0.06,0.10,0.12,0.05,0.02,0.01,0.01,
  0.01,0.01,0.01,0.02,0.03,0.06,0.05,0.03,0.02,0.02,0.01,0.01,
  0.01,0.01,0.02,0.03,0.05,0.15,0.25,0.30,0.20,0.08,0.03,0.02,
  0.01,0.01,0.02,0.03,0.06,0.10,0.08,0.05,0.03,0.02,0.01,0.01,
  0.01,0.02,0.03,0.05,0.10,0.18,0.20,0.15,0.10,0.05,0.03,0.02,
  0.01,0.02,0.03,0.05,0.08,0.12,0.20,0.25,0.30,0.30,0.15,0.08];

// ---- Both settings all ages
const BOTHALL_TICKS = ['0.0', '0.5', '1.0', '1.5'];
const BOTHALL_R = [
  0.005,0.005,0.005,0.005,0.005,0.005,0.005,0.005,0.005,0.005,0.005,0.005,
  0.005,0.005,0.005,0.005,0.005,0.005,0.005,0.005,0.005,0.005,0.005,0.005,
  0.005,0.005,0.005,0.005,0.005,0.005,0.005,0.005,0.005,0.005,0.005,0.005,
  0.005,0.005,0.005,0.005,0.005,0.005,0.005,0.005,0.005,0.005,0.005,0.005,
  0.005,0.005,0.005,0.005,0.005,0.005,0.005,0.005,0.005,0.005,0.005,0.005,
  0.005,0.005,0.005,0.005,0.005,0.005,0.005,0.005,0.005,0.012,0.005,0.005];
const BOTHALL_B = [
  0.78,0.75,0.72,0.72,0.74,0.75,0.74,0.73,0.75,0.72,0.67,0.62,
  0.59,0.57,0.54,0.53,0.52,0.53,0.51,0.52,0.49,0.52,0.49,0.50,
  0.51,0.49,0.48,0.46,0.46,0.46,0.44,0.45,0.45,0.44,0.43,0.44,
  0.42,0.41,0.42,0.41,0.41,0.38,0.40,0.41,0.39,0.36,0.33,0.37,
  0.38,0.41,0.39,0.42,0.39,0.38,0.39,0.42,0.44,0.39,0.42,0.42,
  0.40,0.42,0.38,0.42,0.44,0.41,0.40,0.42,0.45,0.44,0.41,0.39];
const BOTHALL_G = [
  0.67,0.61,0.58,0.70,0.47,0.35,0.31,0.34,0.36,0.38,0.49,0.66,
  0.62,0.58,0.53,0.62,0.54,0.37,0.35,0.36,0.43,0.54,0.59,0.78,
  0.65,0.59,0.59,0.61,0.50,0.39,0.39,0.39,0.45,0.41,0.49,0.80,
  0.70,0.59,0.56,0.49,0.43,0.40,0.37,0.44,0.47,0.54,0.39,0.64,
  0.61,0.55,0.66,0.66,0.54,0.44,0.37,0.36,0.37,0.36,0.41,0.48,
  0.58,0.66,0.59,0.52,0.42,0.36,0.29,0.31,0.30,0.27,0.32,0.58];
const BOTHALL_O = [
  0.02,0.02,0.02,0.02,0.03,0.07,0.11,0.17,0.16,0.14,0.08,0.02,
  0.02,0.02,0.01,0.02,0.02,0.03,0.10,0.15,0.16,0.15,0.10,0.06,
  0.03,0.02,0.02,0.02,0.02,0.03,0.06,0.17,0.18,0.11,0.05,0.03,
  0.02,0.02,0.01,0.02,0.02,0.04,0.08,0.21,0.23,0.13,0.05,0.02,
  0.02,0.02,0.02,0.03,0.03,0.04,0.08,0.14,0.18,0.14,0.06,0.03,
  0.02,0.02,0.02,0.03,0.03,0.04,0.06,0.10,0.15,0.17,0.08,0.03];
const BOTHALL_P = [
  0.01,0.01,0.01,0.02,0.04,0.06,0.10,0.12,0.05,0.02,0.01,0.01,
  0.01,0.01,0.01,0.02,0.03,0.06,0.05,0.03,0.02,0.02,0.01,0.01,
  0.01,0.01,0.02,0.03,0.05,0.15,0.25,0.30,0.20,0.08,0.03,0.02,
  0.01,0.01,0.02,0.03,0.06,0.10,0.08,0.05,0.03,0.02,0.01,0.01,
  0.01,0.02,0.03,0.05,0.10,0.18,0.20,0.17,0.15,0.10,0.06,0.02,
  0.01,0.02,0.03,0.08,0.14,0.22,0.32,0.37,0.40,0.38,0.20,0.08];

// ---- series, colours, legend
const SERIES = ['red', 'blue', 'green', 'orange', 'yellow', 'purple'];
const SERIES_NAMES = ['Parasitic', 'Clostridium difficile', 'Other bacterial', 'Rotavirus', 'Other viral', 'Norovirus'];
const COLORS = { red: '#E3191C', blue: '#2F6DAC', green: '#43A038', orange: '#EC6A08', yellow: '#F8E316', purple: '#8D3C8C' };

const PANELS = [
  { title: 'Primary care 0–4 years', ticks: PC04_TICKS, blue: PC04_B, green: PC04_G, orange: PC04_O, yellow: PC04_Y, purple: PC04_P },
  { title: 'Hospitalization 0–4 years', ticks: HOSP04_TICKS, red: HOSP04_R, blue: HOSP04_B, green: HOSP04_G, orange: HOSP04_O, yellow: HOSP04_Y, purple: HOSP04_P },
  { title: 'Both settings 0–4 years', ticks: BOTH04_TICKS, red: BOTH04_R, blue: BOTH04_B, green: BOTH04_G, orange: BOTH04_O, yellow: BOTH04_Y, purple: BOTH04_P },
  { title: 'Primary care 5–17 years', ticks: PC517_TICKS, blue: PC517_B, green: PC517_G, orange: PC517_O, yellow: PC517_Y, purple: PC517_P },
  { title: 'Hospitalization 5–17 years', ticks: HOSP517_TICKS, red: HOSP517_R, blue: HOSP517_B, green: HOSP517_G, orange: HOSP517_O, yellow: HOSP517_Y, purple: HOSP517_P },
  { title: 'Both settings 5–17 years', ticks: BOTH517_TICKS, red: BOTH517_R, blue: BOTH517_B, green: BOTH517_G, orange: BOTH517_O, yellow: BOTH517_Y, purple: BOTH517_P },
  { title: 'Primary care 18–64 years', ticks: PC1864_TICKS, blue: PC1864_B, green: PC1864_G, purple: PC1864_P },
  { title: 'Hospitalization 18–64 years', ticks: HOSP1864_TICKS, red: HOSP1864_R, blue: HOSP1864_B, green: HOSP1864_G, yellow: HOSP1864_Y, purple: HOSP1864_P },
  { title: 'Both settings 18–64 years', ticks: BOTH1864_TICKS, red: BOTH1864_R, blue: BOTH1864_B, green: BOTH1864_G, purple: BOTH1864_P },
  { title: 'Primary care ≥65 years', ticks: PC65_TICKS, blue: PC65_B, green: PC65_G, purple: PC65_P },
  { title: 'Hospitalization ≥65 years', ticks: HOSP65_TICKS, red: HOSP65_R, blue: HOSP65_B, green: HOSP65_G, purple: HOSP65_P },
  { title: 'Both settings ≥65 years', ticks: BOTH65_TICKS, red: BOTH65_R, blue: BOTH65_B, green: BOTH65_G, purple: BOTH65_P },
  { title: 'Primary care all ages', ticks: PCALL_TICKS, blue: PCALL_B, green: PCALL_G, orange: PCALL_O, purple: PCALL_P },
  { title: 'Hospitalization all ages', ticks: HOSPALL_TICKS, red: HOSPALL_R, blue: HOSPALL_B, green: HOSPALL_G, orange: HOSPALL_O, purple: HOSPALL_P },
  { title: 'Both settings all ages', ticks: BOTHALL_TICKS, red: BOTHALL_R, blue: BOTHALL_B, green: BOTHALL_G, orange: BOTHALL_O, purple: BOTHALL_P }
];

// ---- layout
const COL_X = [51, 299, 543];
const PANEL_W = 200;
const ROW_TOP = 2, ROW_STEP = 92, STRIP_H = 21, PLOT_H = 64;
const AXIS_W = 48, PAD = 8;

Chart.defaults.font.family = '"Liberation Serif", "DejaVu Serif", serif';

// months as decimal years
var XS = [];
for (var i = 0; i < N_MONTHS; i++) {
    XS.push(FIRST_YEAR + (FIRST_MONTH - 1 + i) / 12);
}
var xSpan = XS[N_MONTHS - 1] - XS[0];
var X_MIN = XS[0] - 0.05 * xSpan, X_MAX = XS[N_MONTHS - 1] + 0.05 * xSpan;

const frame = {
    id: 'frame',
    afterDraw: function (chart) {
        var a = chart.chartArea, ctx = chart.ctx;
        ctx.save();
        ctx.strokeStyle = '#5a5a5a';
        ctx.lineWidth = 1;
        ctx.strokeRect(Math.round(a.left) + 0.5, Math.round(a.top) + 0.5,
                       Math.round(a.right - a.left) - 1, Math.round(a.bottom - a.top) - 1);
        ctx.restore();
    }
};

function gridColor(ctx) {
    return ctx.tick && ctx.tick.minor ? '#F4F4F4' : '#EBEBEB';
}
function tickColor(ctx) {
    return ctx.tick && ctx.tick.minor ? 'rgba(0,0,0,0)' : '#333';
}

PANELS.forEach(function (p, k) {
    var r = Math.floor(k / 3), c = k % 3;
    var bottom = r === 4;
    var top = ROW_TOP + r * ROW_STEP;

    var strip = document.createElement('div');
    strip.className = 'strip';
    strip.style.left = COL_X[c] + 'px';
    strip.style.top = top + 'px';
    strip.style.width = PANEL_W + 'px';
    strip.style.height = STRIP_H + 1 + 'px';
    strip.textContent = p.title;
    document.body.appendChild(strip);

    // canvas reaches PAD px above and below the panel so edge tick labels are not cut
    var wrap = document.createElement('div');
    wrap.className = 'wrap';
    var cw = AXIS_W + PANEL_W + 1, ch = PAD + PLOT_H + (bottom ? 20 : PAD);
    wrap.style.left = (COL_X[c] - AXIS_W) + 'px';
    wrap.style.top = (top + STRIP_H - PAD) + 'px';
    var canvas = document.createElement('canvas');
    canvas.width = cw; canvas.height = ch;
    canvas.style.width = cw + 'px'; canvas.style.height = ch + 'px';
    wrap.appendChild(canvas);
    document.body.appendChild(wrap);

    // stacked totals -> y range with 5% expansion like the original
    var maxTotal = 0;
    for (var i = 0; i < N_MONTHS; i++) {
        var s = 0;
        SERIES.forEach(function (name) { if (p[name]) s += p[name][i]; });
        if (s > maxTotal) maxTotal = s;
    }
    var yMin = -0.05 * maxTotal, yMax = 1.05 * maxTotal;

    var majors = p.ticks.map(function (t) { return { value: parseFloat(t), lbl: t }; });
    var step = majors[1].value - majors[0].value;
    var yTicks = majors.slice();
    for (var m = -1; m < majors.length; m++) {
        var v = (m < 0 ? majors[0].value - step : majors[m].value) + step / 2;
        if (v > yMin && v < yMax) yTicks.push({ value: v, lbl: '', minor: true });
    }
    yTicks.sort(function (a, b) { return a.value - b.value; });

    var xTicks = [];
    for (var yr = 2007.5; yr <= 2013.5; yr += 0.5) {
        var major = yr % 1 === 0;
        xTicks.push({ value: yr, lbl: major ? YEAR_TICKS[yr - 2008] : '', minor: !major });
    }

    var datasets = [];
    SERIES.forEach(function (name) {
        if (!p[name]) return;
        datasets.push({
            label: name,
            data: p[name].map(function (v, i) { return { x: XS[i], y: v }; }),
            backgroundColor: COLORS[name],
            borderColor: 'rgba(0,0,0,0)',
            borderWidth: 0,
            pointRadius: 0,
            tension: 0,
            fill: 'origin'
        });
    });

    new Chart(canvas, {
        type: 'line',
        data: { datasets: datasets },
        plugins: [frame],
        options: {
            responsive: false,
            animation: false,
            devicePixelRatio: 1,
            layout: { padding: { top: PAD, right: 1, left: 0, bottom: bottom ? 0 : PAD } },
            plugins: { legend: { display: false }, tooltip: { enabled: false } },
            scales: {
                x: {
                    type: 'linear', min: X_MIN, max: X_MAX,
                    afterBuildTicks: function (s) { s.ticks = xTicks; },
                    afterFit: function (s) { s.height = bottom ? 20 : 0; s.paddingLeft = 0; s.paddingRight = 0; },
                    ticks: {
                        display: bottom, autoSkip: false, maxRotation: 0, padding: 1,
                        color: '#3a3a3a', font: { size: 11.5 },
                        callback: function (v, i, t) { return t[i].lbl; }
                    },
                    grid: { color: gridColor, lineWidth: 1, drawTicks: bottom, tickLength: 3, tickColor: tickColor },
                    border: { display: false }
                },
                y: {
                    stacked: true, min: yMin, max: yMax,
                    afterBuildTicks: function (s) { s.ticks = yTicks; },
                    afterFit: function (s) { s.width = AXIS_W; s.paddingTop = 0; s.paddingBottom = 0; },
                    ticks: {
                        autoSkip: false, padding: 3, color: '#3a3a3a', font: { size: 11.5 },
                        callback: function (v, i, t) { return t[i].lbl; }
                    },
                    grid: { color: gridColor, lineWidth: 1, drawTicks: true, tickLength: 4, tickColor: tickColor },
                    border: { display: false }
                }
            }
        }
    });
});

// legend
var LEGEND_X = [108, 184, 296, 404, 483, 571];
var legend = document.getElementById('legend');
SERIES.forEach(function (name, i) {
    var key = document.createElement('div');
    key.className = 'key';
    key.style.left = LEGEND_X[i] + 'px';
    key.style.background = COLORS[name];
    legend.appendChild(key);
    var txt = document.createElement('div');
    txt.className = 'ktext';
    txt.style.left = (LEGEND_X[i] + 25) + 'px';
    if (name === 'blue') {
        txt.style.fontStyle = 'italic';
        txt.style.fontSize = '11px';
        txt.style.letterSpacing = '-0.4px';
    }
    txt.textContent = SERIES_NAMES[i];
    legend.appendChild(txt);
});
</script>
</body>
</html>
